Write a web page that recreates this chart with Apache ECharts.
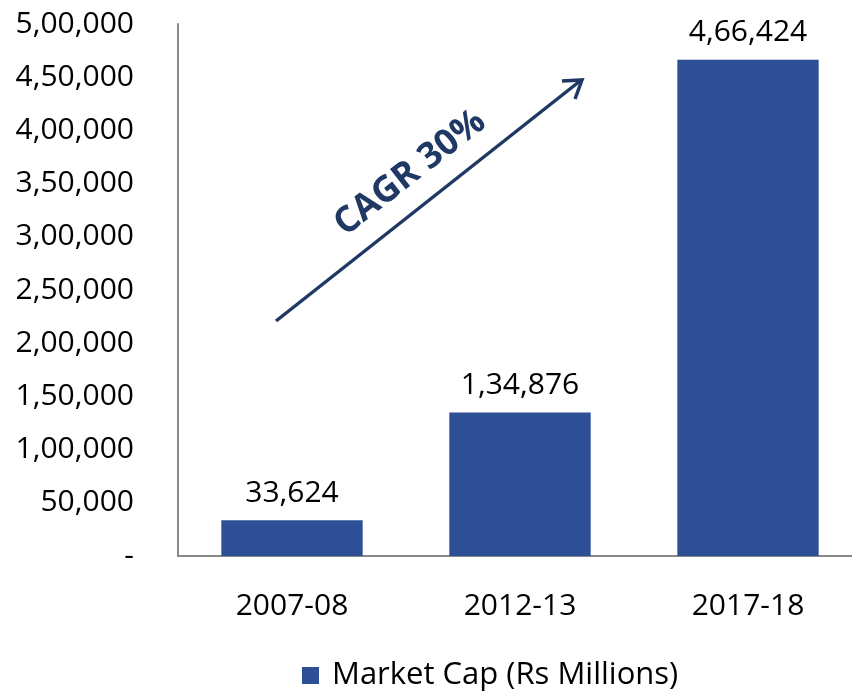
<!DOCTYPE html>
<html><head><meta charset="utf-8">
<script src="https://cdn.jsdelivr.net/npm/echarts@6/dist/echarts.min.js"></script>
<style>html,body{margin:0;padding:0;background:#fff;overflow:hidden}#c{width:880px;height:696px}</style>
</head><body><div id="c"></div>
<script>
const categories = ['2007-08', '2012-13', '2017-18'];
const marketCap = [33624, 134876, 466424];
const seriesName = 'Market Cap (Rs Millions)';
const annotationText = 'CAGR 30%';

function inr(v) {
  if (v === 0) return '-';
  let s = String(Math.round(v));
  if (s.length <= 3) return s;
  let last3 = s.slice(-3), rest = s.slice(0, -3);
  rest = rest.replace(/\B(?=(\d{2})+(?!\d))/g, ',');
  return rest + ',' + last3;
}
const FONT = '"Open Sans", "Noto Sans", sans-serif';
const chart = echarts.init(document.getElementById('c'));
chart.setOption({
  animation: false,
  grid: { left: 178, top: 24, width: 684, height: 532, containLabel: false },
  xAxis: {
    type: 'category', data: categories,
    axisLine: { lineStyle: { color: '#898989', width: 2 } },
    axisTick: { show: false },
    axisLabel: { color: '#000', fontSize: 30, fontFamily: FONT, margin: 35 }
  },
  yAxis: {
    type: 'value', min: 0, max: 500000, interval: 50000,
    axisLine: { show: true, lineStyle: { color: '#898989', width: 2 } },
    axisTick: { show: false },
    splitLine: { show: false },
    axisLabel: { color: '#000', fontSize: 30, fontFamily: FONT, margin: 44, formatter: inr }
  },
  legend: {
    bottom: 0, left: 297, itemWidth: 17, itemHeight: 17, icon: 'rect', itemGap: 10,
    textStyle: { fontSize: 31, fontFamily: FONT, color: '#000', padding: [0, 0, 0, 8] },
    data: [seriesName]
  },
  series: [{
    name: seriesName, type: 'bar', data: marketCap, barWidth: '62%',
    itemStyle: { color: '#2E4F95' },
    label: { show: true, position: 'top', distance: 12, color: '#000', fontSize: 30, fontFamily: FONT, formatter: p => inr(p.value) }
  }],
  graphic: [
    { type: 'line', shape: { x1: 276, y1: 321, x2: 580, y2: 81 }, style: { stroke: '#1F3864', lineWidth: 3.5 } },
    { type: 'polyline', shape: { points: [[562, 81], [582, 80], [575, 99]] }, style: { stroke: '#1F3864', lineWidth: 3.5, fill: null } },
    { type: 'text', x: 410, y: 173, rotation: 38 * Math.PI / 180,
      style: { text: annotationText, fill: '#1F3864', font: 'bold 36px ' + FONT, textAlign: 'center', textVerticalAlign: 'middle' } }
  ]
});
</script></body></html>
